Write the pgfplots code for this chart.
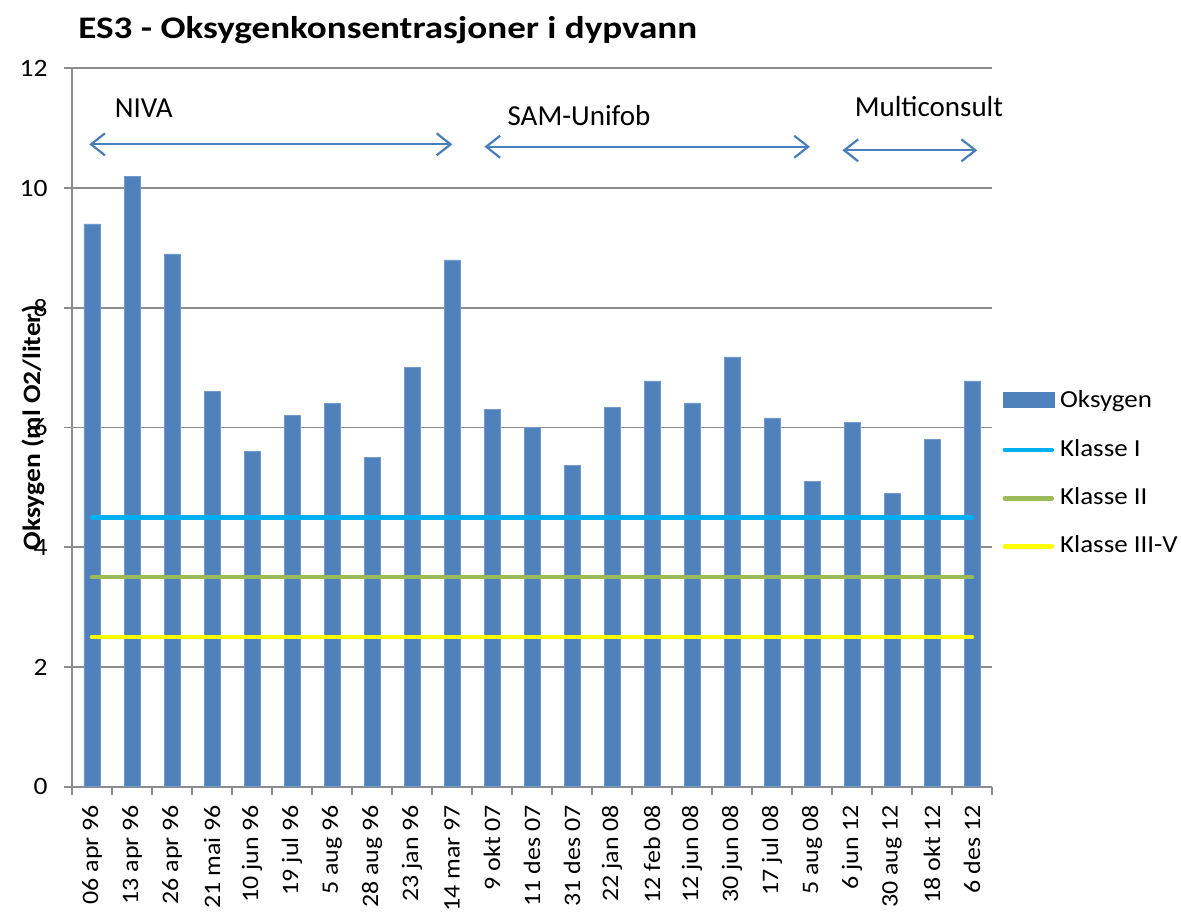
\documentclass[border=0pt]{standalone}
\usepackage{pgfplots}
\pgfplotsset{compat=1.18}
\usetikzlibrary{arrows.meta}
\usepackage{fontspec}
\setmainfont{Carlito}[FakeStretch=1.1]
\newfontfamily\titlefont{Carlito}[FakeStretch=1.18]
\newfontfamily\annfont{Carlito}
\definecolor{barblue}{HTML}{4F81BD}
\definecolor{kI}{HTML}{00B0F0}
\definecolor{kII}{HTML}{9BBB59}
\definecolor{kIII}{HTML}{FFFF00}
\definecolor{arrowblue}{HTML}{4A7EBB}
\definecolor{axgray}{HTML}{8C8C8C}
\begin{document}
\begin{tikzpicture}
\path[use as bounding box] (-36pt,-62.15pt) rectangle (554.5pt,393.35pt);
\begin{axis}[
  scale only axis, width=460pt, height=359.2pt,
  at={(0,0)}, anchor=south west,
  clip=false,
  xmin=-0.5, xmax=22.5, ymin=0, ymax=12,
  ytick={0,2,...,12},
  xtick={0,...,22},
  xticklabels={06 apr 96, 13 apr 96, 26 apr 96, 21 mai 96, 10 jun 96, 19 jul 96, 5 aug 96, 28 aug 96, 23 jan 96, 14 mar 97, 9 okt 07, 11 des 07, 31 des 07, 22 jan 08, 12 feb 08, 12 jun 08, 30 jun 08, 17 jul 08, 5 aug 08, 6 jun 12, 30 aug 12, 18 okt 12, 6 des 12},
  minor xtick={-0.5,0.5,...,22.5},
  axis lines*=left,
  axis line style={axgray, line width=0.8pt},
  ymajorgrids, grid style={axgray, line width=0.8pt},
  tick align=outside,
  major tick length=4pt, minor tick length=4pt,
  major x tick style={draw=none},
  minor x tick style={axgray, line width=0.8pt},
  major y tick style={axgray, line width=0.8pt},
  /pgf/number format/assume math mode=true,
  yticklabel style={font=\fontsize{12.5}{14}\selectfont, inner sep=0pt, xshift=-8pt},
  xticklabel style={font=\fontsize{11.8}{14}\selectfont, inner sep=0pt, yshift=-5pt, rotate=90, anchor=east},
  ylabel={Oksygen (ml O2/liter)},
  ylabel style={font=\bfseries\fontsize{12.5}{14}\selectfont, at={(rel axis cs:-0.0424,0.5)}, anchor=center},
  legend style={at={(1.011,0.435)}, anchor=west, draw=none, fill=none, inner sep=0pt,
    font=\fontsize{12.25}{14}\selectfont, row sep=12.15pt,
    nodes={inner sep=0pt, text height=9pt, text depth=3pt},
    /tikz/every odd column/.append style={column sep=3pt}},
  legend cell align=left,
]
\addplot[ybar, bar width=8pt, fill=barblue, draw=barblue!80!white, line width=0.3pt,
  legend image code/.code={\fill[barblue] (0pt,-3pt) rectangle (25.5pt,4.7pt);}]
  coordinates {(0,9.4) (1,10.2) (2,8.9) (3,6.6) (4,5.6) (5,6.2) (6,6.4) (7,5.5) (8,7.0) (9,8.8) (10,6.3) (11,6.0) (12,5.37) (13,6.33) (14,6.78) (15,6.41) (16,7.18) (17,6.16) (18,5.1) (19,6.09) (20,4.9) (21,5.8) (22,6.78)};
\addlegendentry{Oksygen}
\addplot[kI, line width=2.3pt, line cap=round,
  legend image code/.code={\draw[kI, line width=2.3pt, line cap=round] (1pt,0pt) -- (24.5pt,0pt);}]
  coordinates {(0,4.5) (22,4.5)};
\addlegendentry{Klasse I}
\addplot[kII, line width=2.3pt, line cap=round,
  legend image code/.code={\draw[kII, line width=2.3pt, line cap=round] (1pt,0pt) -- (24.5pt,0pt);}]
  coordinates {(0,3.5) (22,3.5)};
\addlegendentry{Klasse II}
\addplot[kIII, line width=2.3pt, line cap=round,
  legend image code/.code={\draw[kIII, line width=2.3pt, line cap=round] (1pt,0pt) -- (24.5pt,0pt);}]
  coordinates {(0,2.5) (22,2.5)};
\addlegendentry{Klasse III-V}
% annotations
\node[anchor=base west, inner sep=0pt, font=\titlefont\bfseries\fontsize{15.7}{18}\selectfont]
  at (rel axis cs:0,1) [xshift=3pt, yshift=15pt] {ES3 - Oksygenkonsentrasjoner i dypvann};
\node[anchor=base west, inner sep=0pt, font=\annfont\fontsize{14.5}{16}\selectfont] at (axis cs:0.56,11.18) {NIVA};
\node[anchor=base west, inner sep=0pt, font=\annfont\fontsize{14.5}{16}\selectfont] at (axis cs:10.38,11.05) {SAM-Unifob};
\node[anchor=base west, inner sep=0pt, font=\annfont\fontsize{14.5}{16}\selectfont] at (axis cs:19.06,11.19) {Multiconsult};
\draw[arrowblue, line width=1.1pt, {Straight Barb[length=7pt,width=11pt]}-{Straight Barb[length=7pt,width=11pt]}]
  (axis cs:-0.07,10.73) -- (axis cs:9.01,10.73);
\draw[arrowblue, line width=1.1pt, {Straight Barb[length=7pt,width=11pt]}-{Straight Barb[length=7pt,width=11pt]}]
  (axis cs:9.81,10.69) -- (axis cs:17.95,10.69);
\draw[arrowblue, line width=1.1pt, {Straight Barb[length=7pt,width=11pt]}-{Straight Barb[length=7pt,width=11pt]}]
  (axis cs:18.76,10.63) -- (axis cs:22.13,10.63);
\end{axis}
\end{tikzpicture}
\end{document}
